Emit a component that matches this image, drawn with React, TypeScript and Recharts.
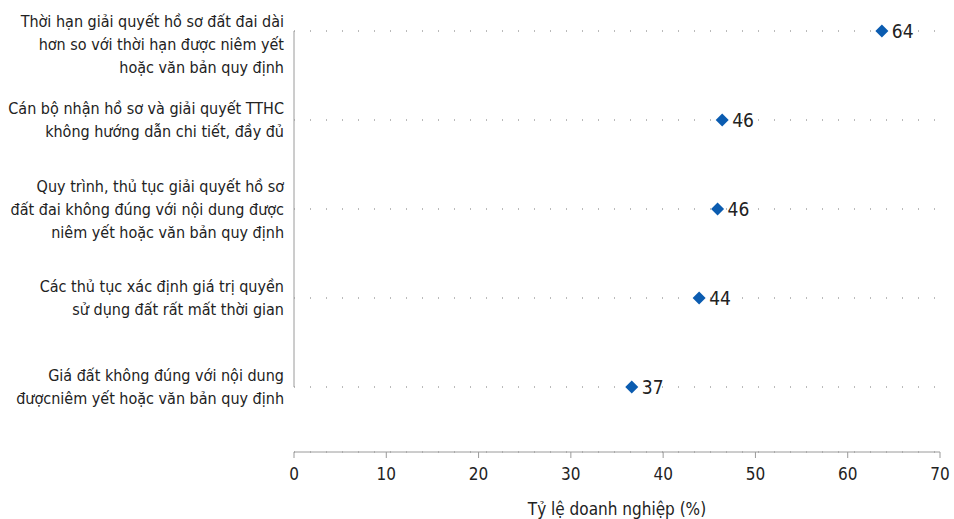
import React from "react";
import {
  ComposedChart,
  Line,
  XAxis,
  YAxis,
  CartesianGrid,
  ReferenceLine,
  LabelList,
} from "recharts";

// Categories (line breaks kept as in the source figure)
const categories = [
  "Thời hạn giải quyết hồ sơ đất đai dài\nhơn so với thời hạn được niêm yết\nhoặc văn bản quy định",
  "Cán bộ nhận hồ sơ và giải quyết TTHC\nkhông hướng dẫn chi tiết, đầy đủ",
  "Quy trình, thủ tục giải quyết hồ sơ\nđất đai không đúng với nội dung được\nniêm yết hoặc văn bản quy định",
  "Các thủ tục xác định giá trị quyền\nsử dụng đất rất mất thời gian",
  "Giá đất không đúng với nội dung\nđượcniêm yết hoặc văn bản quy định",
];

// Share of firms (%)
const shares = [63.7, 46.4, 45.9, 43.9, 36.6];

const xTicks = [0, 10, 20, 30, 40, 50, 60, 70];
const xTitle = "Tỷ lệ doanh nghiệp (%)";

const FONT = "'DejaVu Sans Condensed', 'Liberation Sans Narrow', Roboto, sans-serif";
const TEXT = "#222222";
const AXIS = "#9a9a9a";
const MARKER = "#0b5cb0";
const LINE_H = 23;

const data = categories.map((name, i) => ({ name, value: shares[i] }));

const CategoryTick = (props: any) => {
  const { x, y, payload } = props;
  const lines = String(payload.value).split("\n");
  // keep the top block from running off the chart
  const first = Math.max(y - ((lines.length - 1) * LINE_H) / 2, 21);
  return (
    <text x={x} y={first} textAnchor="end" fill={TEXT} fontFamily={FONT} fontSize={16}>
      {lines.map((l, i) => (
        <tspan key={i} x={x} y={first + i * LINE_H} dy="0.35em">
          {l}
        </tspan>
      ))}
    </text>
  );
};

const Diamond = (props: any) => {
  const { cx, cy, index } = props;
  if (cx == null || cy == null) return null;
  const r = 6.5;
  return (
    <polygon
      key={`d-${index}`}
      points={`${cx},${cy - r} ${cx + r},${cy} ${cx},${cy + r} ${cx - r},${cy}`}
      fill={MARKER}
    />
  );
};

export default function App() {
  return (
    <div style={{ position: "fixed", left: 0, top: 0, background: "#fff" }}>
      <ComposedChart
        width={954}
        height={519}
        data={data}
        layout="vertical"
        margin={{ top: 31, right: 14, bottom: 7, left: 0 }}
      >
        <CartesianGrid vertical={false} stroke="#777" strokeDasharray="1 15" />
        <XAxis
          type="number"
          dataKey="value"
          domain={[0, 70]}
          ticks={xTicks}
          interval={0}
          height={60}
          tickSize={6}
          tickMargin={10}
          stroke={AXIS}
          tick={{ fill: TEXT, fontFamily: FONT, fontSize: 17 }}
          label={{
            value: xTitle,
            position: "insideBottom",
            offset: -3,
            fill: TEXT,
            fontFamily: FONT,
            fontSize: 17,
          }}
        />
        <YAxis
          type="category"
          dataKey="name"
          scale="point"
          width={294}
          padding={{ top: 0, bottom: 65 }}
          axisLine={false}
          tickLine={false}
          tickSize={0}
          tickMargin={10}
          interval={0}
          tick={<CategoryTick />}
        />
        <ReferenceLine
          segment={[
            { x: 0, y: categories[0] },
            { x: 0, y: categories[categories.length - 1] },
          ]}
          stroke={AXIS}
          ifOverflow="visible"
        />
        <Line
          dataKey="value"
          stroke="none"
          dot={<Diamond />}
          activeDot={false}
          isAnimationActive={false}
        >
          <LabelList
            dataKey="value"
            position="right"
            offset={10}
            formatter={(v: any) => Math.round(Number(v))}
            fill={TEXT}
            fontFamily={FONT}
            fontSize={19}
          />
        </Line>
      </ComposedChart>
    </div>
  );
}
